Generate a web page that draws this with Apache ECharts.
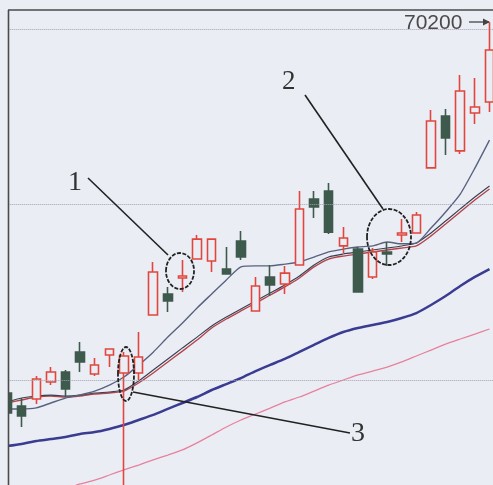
<!DOCTYPE html>
<html>
<head>
<meta charset="utf-8">
<script src="https://cdn.jsdelivr.net/npm/echarts@6/dist/echarts.min.js"></script>
<style>
html, body { margin: 0; padding: 0; background: #ebedf5; }
#chart { width: 493px; height: 485px; }
</style>
</head>
<body>
<div id="chart"></div>
<script>
// K线图 + 均线，三处标注
var days = ['1','2','3','4','5','6','7','8','9','10','11','12','13','14','15','16','17',
            '18','19','20','21','22','23','24','25','26','27','28','29','30','31','32','33','34'];

// [开盘, 收盘, 最低, 最高]
var candles = [
  [59625, 59055, 58910, 59710],
  [59255, 58970, 58655, 59480],
  [59455, 60025, 59310, 60110],
  [59940, 60225, 59850, 60365],
  [60225, 59740, 59510, 60280],
  [60795, 60510, 60225, 61080],
  [60165, 60425, 60110, 60625],
  [60710, 60880, 60365, 60880],
  [60195, 60680, 56800, 60795],
  [60195, 60650, 59995, 61365],
  [61850, 63075, 61850, 63360],
  [62450, 62250, 61935, 62650],
  [62905, 62960, 62505, 63420],
  [63445, 64015, 63445, 64130],
  [63390, 64015, 63075, 64015],
  [63160, 63020, 63020, 63790],
  [63960, 63505, 63420, 64245],
  [61965, 62675, 61965, 62935],
  [62935, 62705, 62390, 63275],
  [62735, 63045, 62450, 63245],
  [63275, 64875, 63275, 65385],
  [65160, 64930, 64615, 65385],
  [65385, 64215, 64160, 65615],
  [63820, 64045, 63620, 64360],
  [63730, 62505, 62505, 63790],
  [62935, 63645, 62875, 63760],
  [63645, 63590, 63245, 63930],
  [64130, 64190, 63930, 64590],
  [64190, 64700, 64190, 64785],
  [66045, 67385, 66045, 67695],
  [67525, 66900, 66415, 67725],
  [66530, 68240, 66440, 68695],
  [67610, 67785, 67300, 68610],
  [67925, 69410, 67640, 70200]
];

var ma5 = [59170,59170,59200,59340,59480,59570,59680,59850,60080,60420,
           60790,61220,61620,62050,62450,62850,63220,63250,63250,63300,
           63360,63500,63650,63730,63790,63820,63930,63880,63900,64330,
           64790,65300,66040,66840];
var ma10 = [59365,59480,59540,59565,59540,59565,59625,59655,59710,59965,
            60280,60595,60910,61220,61535,61790,62020,62250,62475,62705,
            62960,63275,63505,63590,63645,63705,63760,63820,63905,64190,
            64530,64875,65215,65530];
var ma20 = [59340,59425,59510,59540,59510,59540,59595,59625,59680,59910,
            60195,60510,60820,61135,61480,61735,61965,62190,62420,62650,
            62905,63220,63445,63530,63590,63645,63705,63760,63820,64105,
            64445,64790,65130,65445];
var ma60 = [58110,58170,58255,58310,58370,58455,58510,58600,58710,58855,
            59000,59170,59340,59510,59710,59880,60050,60250,60425,60595,
            60795,60995,61195,61365,61480,61565,61650,61765,61905,62135,
            62390,62675,62935,63160];
var ma120 = [56430,56545,56660,56770,56885,57030,57140,57285,57430,57570,
             57715,57855,58000,58200,58425,58655,58855,59025,59195,59370,
             59510,59680,59850,59995,60140,60250,60365,60510,60680,60850,
             61020,61165,61305,61450];

var gridLevels = [60000, 65000, 70000];
var peakLabel = '70200';

var bg = '#ebedf5';
var red = '#e0463c';
var dark = '#3e5a4c';
var ink = '#222';

var myChart = echarts.init(document.getElementById('chart'));

function maLine(name, data, color, width) {
    return {
        name: name,
        type: 'line',
        data: data,
        showSymbol: false,
        smooth: 0.2,
        silent: true,
        lineStyle: { color: color, width: width },
        z: 1
    };
}

myChart.setOption({
    animation: false,
    backgroundColor: bg,
    grid: { left: -0.3, top: 10, width: 497.1, bottom: 0, outerBoundsMode: 'none' },
    xAxis: { type: 'category', data: days, show: false, boundaryGap: true },
    yAxis: { type: 'value', min: 57000, max: 70550, show: false, splitLine: { show: false } },
    series: [
        maLine('MA120', ma120, '#e8819c', 1.3),
        maLine('MA60', ma60, '#3a3c92', 2.5),
        maLine('MA20', ma20, '#b3444a', 1.4),
        maLine('MA10', ma10, '#3a3f4f', 1.1),
        maLine('MA5', ma5, '#58627f', 1.4),
        {
            name: 'K',
            type: 'candlestick',
            data: candles,
            barWidth: 9,
            z: 2,
            itemStyle: {
                color: bg,
                color0: dark,
                borderColor: red,
                borderColor0: dark,
                borderWidth: 1.6
            },
            markLine: {
                silent: true,
                symbol: ['none', 'none'],
                label: { show: false },
                lineStyle: { type: 'dotted', color: '#a0a0b0', width: 1 },
                data: gridLevels.map(function (v) { return { yAxis: v }; })
            }
        }
    ],
    graphic: [
        // 边框外的空白和边框
        { type: 'rect', shape: { x: 0, y: 0, width: 8, height: 485 }, style: { fill: bg }, z: 100 },
        { type: 'rect', shape: { x: 0, y: 0, width: 493, height: 10 }, style: { fill: bg }, z: 100 },
        { type: 'line', shape: { x1: 8.5, y1: 10, x2: 8.5, y2: 485 }, style: { stroke: '#4a4a4a', lineWidth: 1.6 }, z: 101 },
        { type: 'line', shape: { x1: 8, y1: 10, x2: 493, y2: 10 }, style: { stroke: '#4a4a4a', lineWidth: 1.6 }, z: 101 },
        // 最高价标注
        { type: 'text', x: 404, y: 23, style: { text: peakLabel, font: '21px "Liberation Sans", sans-serif', fill: '#4a4a4a', verticalAlign: 'middle' }, z: 101 },
        { type: 'line', shape: { x1: 469, y1: 22, x2: 489, y2: 22 }, style: { stroke: '#444', lineWidth: 1.3 }, z: 101 },
        { type: 'polygon', shape: { points: [[490, 22], [483, 18.5], [483, 25.5]] }, style: { fill: '#444' }, z: 101 },
        // 标注 1
        { type: 'text', x: 68, y: 183, style: { text: '1', font: '28px "Liberation Serif", serif', fill: '#333', verticalAlign: 'middle' }, z: 101 },
        { type: 'line', shape: { x1: 88, y1: 178, x2: 168, y2: 255 }, style: { stroke: ink, lineWidth: 1.6 }, z: 101 },
        { type: 'ellipse', shape: { cx: 180, cy: 271, rx: 14, ry: 18 }, style: { fill: 'none', stroke: ink, lineWidth: 1.8, lineDash: [4, 1.5] }, z: 101 },
        // 标注 2
        { type: 'text', x: 282, y: 82, style: { text: '2', font: '27px "Liberation Serif", serif', fill: '#333', verticalAlign: 'middle' }, z: 101 },
        { type: 'line', shape: { x1: 305, y1: 95, x2: 383, y2: 209 }, style: { stroke: ink, lineWidth: 1.6 }, z: 101 },
        { type: 'ellipse', shape: { cx: 389, cy: 237, rx: 22, ry: 28 }, style: { fill: 'none', stroke: ink, lineWidth: 1.8, lineDash: [4, 1.5] }, z: 101 },
        // 标注 3
        { type: 'text', x: 351, y: 434, style: { text: '3', font: '28px "Liberation Serif", serif', fill: '#333', verticalAlign: 'middle' }, z: 101 },
        { type: 'line', shape: { x1: 133, y1: 392, x2: 350, y2: 433 }, style: { stroke: ink, lineWidth: 1.6 }, z: 101 },
        { type: 'ellipse', shape: { cx: 126, cy: 374, rx: 8, ry: 27 }, style: { fill: 'none', stroke: ink, lineWidth: 1.8, lineDash: [4, 1.5] }, z: 101 }
    ]
});
</script>
</body>
</html>
